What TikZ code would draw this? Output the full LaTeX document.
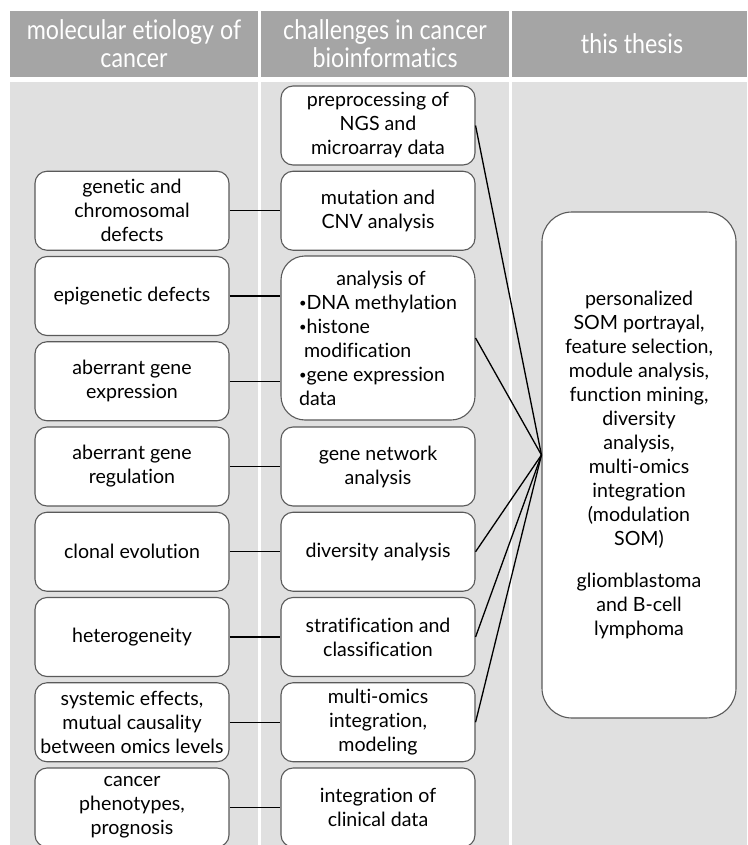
\documentclass[tikz,border=0pt]{standalone}
\usepackage{fontspec}
\setmainfont[Ligatures=NoCommon]{Lato}
\newfontfamily\headfont[FakeStretch=0.86,Ligatures=NoCommon]{Lato}
\definecolor{headgray}{HTML}{A5A5A5}
\definecolor{bodygray}{HTML}{E0E0E0}
\definecolor{boxline}{HTML}{5A5A5A}

\newcommand{\smallbul}{{\fontsize{13}{13}\selectfont\raisebox{1.5pt}{•}}}

\tikzset{
  cell/.style={rectangle, draw=boxline, line width=1.1pt, fill=white,
    rounded corners=12pt, minimum width=194pt, minimum height=79pt,
    align=center, inner sep=2pt, font=\fontsize{19.6}{24}\selectfont},
  head/.style={text=white, align=center, font=\headfont\fontsize{27}{28}\selectfont},
  link/.style={line width=1.3pt}
}

\begin{document}
\begin{tikzpicture}[x=1pt,y=-1pt]
  \useasboundingbox (0,0) rectangle (747,845);

  %column backgrounds
  \fill[headgray] (10,11) rectangle (258,77);
  \fill[headgray] (261,11) rectangle (509,77);
  \fill[headgray] (512,11) rectangle (747,77);
  \fill[bodygray] (10,82) rectangle (258,845);
  \fill[bodygray] (261,82) rectangle (509,845);
  \fill[bodygray] (512,82) rectangle (747,845);

  \node[head] (h1) at (134,44) {molecular etiology of\\cancer};
  \node[head] (h2) at (385,44) {challenges in cancer\\bioinformatics};
  \node[head] (h3) at (632,44) {this thesis};

  %left column
  \node[cell] (gen) at (132,210.75) {genetic and\\chromosomal\\defects};
  \node[cell] (epi) at (132,296) {epigenetic defects};
  \node[cell] (expr) at (132,381.25) {aberrant gene\\expression};
  \node[cell] (reg) at (132,466.5) {aberrant gene\\regulation};
  \node[cell] (clon) at (132,551.75) {clonal evolution};
  \node[cell] (het) at (132,637) {heterogeneity};
  \node[cell] (sys) at (132,722.25) {systemic effects,\\mutual causality\\between omics levels};
  \node[cell] (phen) at (132,807.5) {cancer\\phenotypes,\\prognosis};

  %middle column
  \node[cell] (pre) at (378,125.5) {preprocessing of\\NGS and\\microarray data};
  \node[cell] (mut) at (378,210.75) {mutation and\\CNV analysis};
  \node[cell, minimum height=164pt, align=left, rounded corners=24pt] (ana) at (378,338)
    {\hspace*{1.9em}analysis of\\\smallbul DNA methylation\\\smallbul histone\\\ modification\\\smallbul gene expression\\data};
  \node[cell] (net) at (378,466.5) {gene network\\analysis};
  \node[cell] (div) at (378,551.75) {diversity analysis};
  \node[cell] (strat) at (378,637) {stratification and\\classification};
  \node[cell] (omics) at (378,722.25) {multi-omics\\integration,\\modeling};
  \node[cell] (clin) at (378,807.5) {integration of\\clinical data};

  %right column
  \node[cell, minimum height=506pt, rounded corners=30pt] (thesis) at (639,465)
    {personalized\\SOM portrayal,\\feature selection,\\module analysis,\\function mining,\\diversity\\analysis,\\multi-omics\\integration\\(modulation\\SOM)\\[18pt]gliomblastoma\\and B-cell\\lymphoma};
  \coordinate (hub) at ([yshift=10pt]thesis.west);

  %connectors
  \draw[link] (gen) -- (mut);
  \draw[link] (epi) -- (epi -| ana.west);
  \draw[link] (expr) -- (expr -| ana.west);
  \draw[link] (reg) -- (net);
  \draw[link] (clon) -- (div);
  \draw[link] (het) -- (strat);
  \draw[link] (sys) -- (omics);
  \draw[link] (phen) -- (clin);

  \draw[link] (pre.east) -- (hub);
  \draw[link] (ana.east) -- (hub);
  \draw[link] (div.east) -- (hub);
  \draw[link] (strat.east) -- (hub);
  \draw[link] (omics.east) -- (hub);
\end{tikzpicture}
\end{document}
